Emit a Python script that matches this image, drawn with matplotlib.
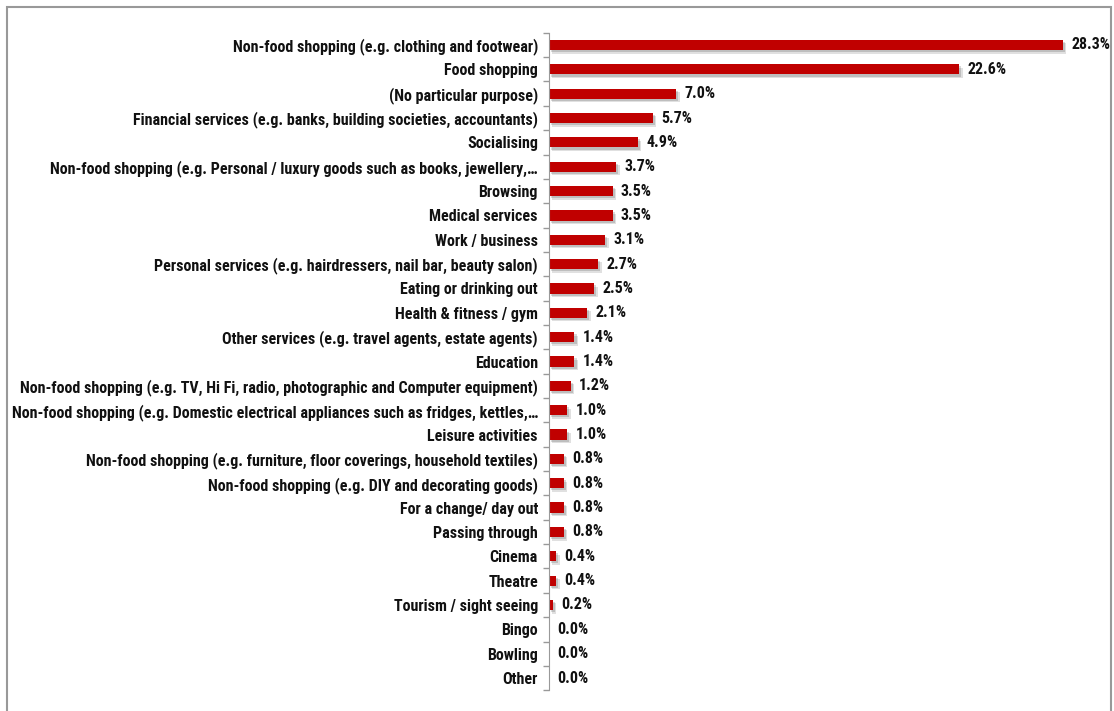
import numpy as np
import matplotlib.pyplot as plt
import matplotlib.patheffects as pe
from matplotlib.patches import Rectangle

categories = [
    "Non-food shopping (e.g. clothing and footwear)",
    "Food shopping",
    "(No particular purpose)",
    "Financial services (e.g. banks, building societies, accountants)",
    "Socialising",
    "Non-food shopping (e.g. Personal / luxury goods such as books, jewellery,\u2026",
    "Browsing",
    "Medical services",
    "Work / business",
    "Personal services (e.g. hairdressers, nail bar, beauty salon)",
    "Eating or drinking out",
    "Health & fitness / gym",
    "Other services (e.g. travel agents, estate agents)",
    "Education",
    "Non-food shopping (e.g. TV, Hi Fi, radio, photographic and Computer equipment)",
    "Non-food shopping (e.g. Domestic electrical appliances such as fridges, kettles,\u2026",
    "Leisure activities",
    "Non-food shopping (e.g. furniture, floor coverings, household textiles)",
    "Non-food shopping (e.g. DIY and decorating goods)",
    "For a change/ day out",
    "Passing through",
    "Cinema",
    "Theatre",
    "Tourism / sight seeing",
    "Bingo",
    "Bowling",
    "Other",
]
values = [28.3, 22.6, 7.0, 5.7, 4.9, 3.7, 3.5, 3.5, 3.1, 2.7, 2.5, 2.1, 1.4, 1.4,
          1.2, 1.0, 1.0, 0.8, 0.8, 0.8, 0.8, 0.4, 0.4, 0.2, 0.0, 0.0, 0.0]

plt.rcParams['font.family'] = ['Roboto Condensed', 'DejaVu Sans']

fig = plt.figure(figsize=(11.14, 7.11), dpi=100)
n = len(categories)
ax = fig.add_axes([549 / 1114, 1 - 690.2 / 711, 30 * 18.16 / 1114,
                   (690.2 - 32.8) / 711])

y = np.arange(n)
# soft drop shadow under each bar
shadow = [pe.SimplePatchShadow(offset=(2.5, -2.5), shadow_rgbFace='#000000', alpha=0.12),
          pe.SimplePatchShadow(offset=(1.5, -1.5), shadow_rgbFace='#000000', alpha=0.15),
          pe.Normal()]
bars = ax.barh(y, values, height=0.42, color='#C00000', path_effects=shadow)

for yi, v in zip(y, values):
    ax.annotate(f"{v:.1f}%", (v, yi), xytext=(6, 0), textcoords='offset points',
                va='center', ha='left', fontsize=11.5, fontweight='bold', color='#111111')

ax.set_xlim(0, 30)
ax.set_ylim(n - 0.5, -0.5)
ax.set_yticks(y)
ax.set_yticklabels(categories, fontsize=11.5, fontweight='bold', color='#111111')
ax.tick_params(axis='y', which='major', length=0, pad=8)
ax.set_yticks(np.arange(-0.5, n, 1), minor=True)
ax.tick_params(axis='y', which='minor', length=4, color='#999999', width=1)
ax.set_xticks([])
for s in ['top', 'right', 'bottom']:
    ax.spines[s].set_visible(False)
ax.spines['left'].set_color('#999999')

# outer frame
fig.patches.append(Rectangle((7 / 1114, -0.05), (1111 - 7) / 1114, 1.05 - 7 / 711,
                             transform=fig.transFigure, fill=False,
                             edgecolor='#999999', linewidth=1.5))

fig.savefig('out.png', dpi=100)
